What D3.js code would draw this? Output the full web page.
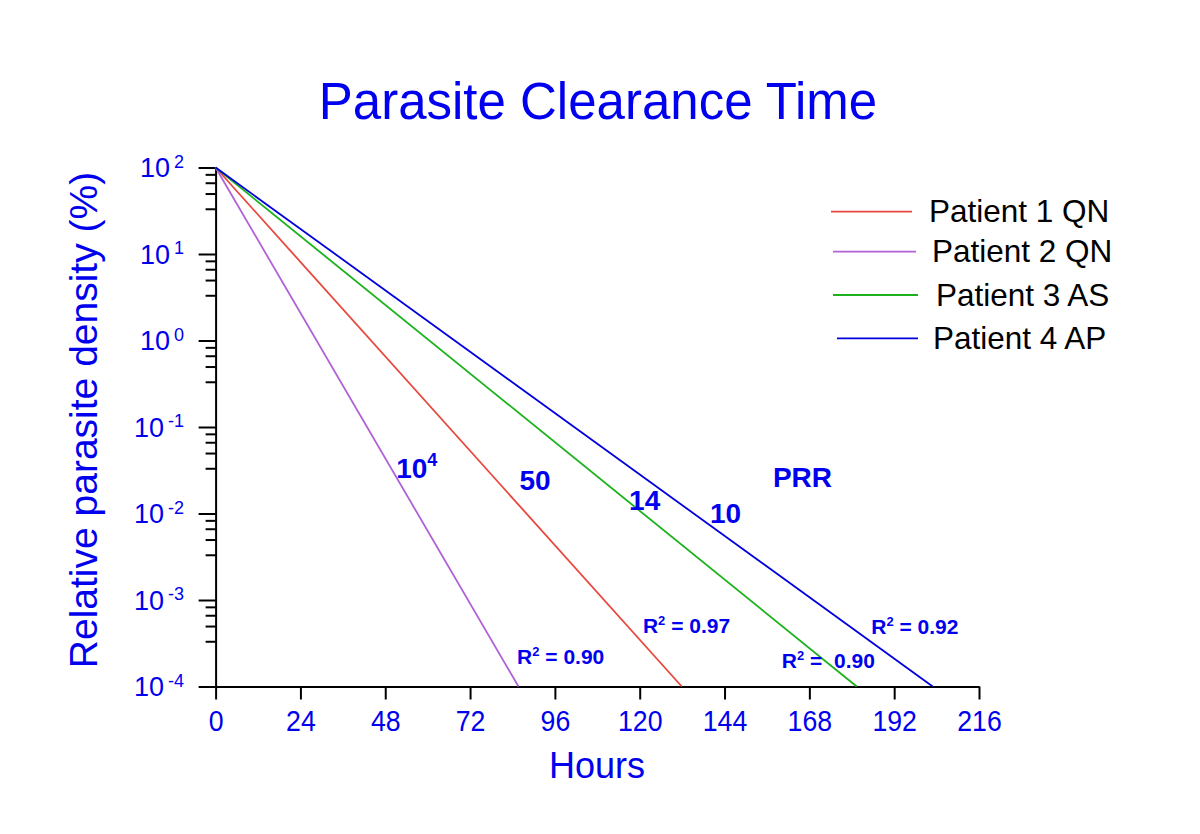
<!DOCTYPE html>
<html>
<head>
<meta charset="utf-8">
<script src="https://cdn.jsdelivr.net/npm/d3@7"></script>
<style>
  html, body { margin: 0; padding: 0; background: #fff; }
  svg { display: block; }
  text { font-family: "Liberation Sans", Arial, Helvetica, sans-serif; }
</style>
</head>
<body>
<svg id="chart" width="1200" height="834"></svg>
<script>
// ---------------- data ----------------
const seriesNames   = ["Patient 1 QN", "Patient 2 QN", "Patient 3 AS", "Patient 4 AP"];
const seriesColors  = ["#e8483e", "#b062d6", "#1db21d", "#0000dc"];
const startHours    = [0, 0, 0, 0];
const startValues   = [100, 100, 100, 100];
const endHours      = [131.9, 85.7, 181.4, 202.9];
const endValues     = [1e-4, 1e-4, 1e-4, 1e-4];

const xTickValues   = [0, 24, 48, 72, 96, 120, 144, 168, 192, 216];
const yTickExponents = [2, 1, 0, -1, -2, -3, -4];
const minorFactors  = [1 / 1.2, 1 / 1.5, 1 / 2, 1 / 3];

// PRR labels (hours, log10 value)
const prrLabels     = [
  { main: "10", sup: "4", h: 51.1, e: -1.59 },
  { main: "50", sup: "",  h: 86.0, e: -1.728 },
  { main: "14", sup: "",  h: 117.0, e: -1.96 },
  { main: "10", sup: "",  h: 139.9, e: -2.11 },
  { main: "PRR", sup: "", h: 157.7, e: -1.694 }
];
// R² labels
const r2Labels      = [
  { text: " = 0.90",  h: 85.3,  e: -3.74 },
  { text: " = 0.97",  h: 120.9, e: -3.378 },
  { text: " =  0.90", h: 160.2, e: -3.786 },
  { text: " = 0.92",  h: 185.5, e: -3.393 }
];

const titleText = "Parasite Clearance Time";
const xLabel = "Hours";
const yLabel = "Relative parasite density (%)";

// ---------------- layout ----------------
const blue = "#0000ee";
const svg = d3.select("#chart");
const x = d3.scaleLinear().domain([0, 216]).range([215.6, 979]);
const y = d3.scaleLog().domain([1e-4, 100]).range([686.5, 167.5]);

// title
svg.append("text")
  .attr("x", 598).attr("y", 119)
  .attr("text-anchor", "middle")
  .attr("font-size", 51)
  .attr("fill", blue)
  .text(titleText);

// axis labels
svg.append("text")
  .attr("x", 597).attr("y", 778)
  .attr("text-anchor", "middle")
  .attr("font-size", 36)
  .attr("fill", blue)
  .text(xLabel);

svg.append("text")
  .attr("transform", "translate(97,420) rotate(-90)")
  .attr("text-anchor", "middle")
  .attr("font-size", 39)
  .attr("fill", blue)
  .text(yLabel);

// x axis
const xAxis = svg.append("g")
  .attr("transform", `translate(0,${y(1e-4)})`)
  .call(d3.axisBottom(x).tickValues(xTickValues).tickSize(13).tickSizeOuter(0).tickPadding(6));
xAxis.select(".domain").attr("stroke", "#000").attr("stroke-width", 2);
xAxis.selectAll(".tick line").attr("stroke", "#000").attr("stroke-width", 2);
xAxis.selectAll(".tick text")
  .attr("font-family", "Liberation Sans, Arial, sans-serif")
  .attr("font-size", 29)
  .attr("fill", blue)
  .attr("y", 44.5)
  .attr("dy", null)
  .attr("transform", "scale(0.92,1)");

// y axis major
const majors = yTickExponents.map(e => Math.pow(10, e));
const yAxis = svg.append("g")
  .attr("transform", `translate(${x(0)},0)`)
  .call(d3.axisLeft(y).tickValues(majors).tickSize(17).tickSizeOuter(0).tickFormat(""));
yAxis.select(".domain").attr("stroke", "#000").attr("stroke-width", 2);
yAxis.selectAll(".tick line").attr("stroke", "#000").attr("stroke-width", 2);

// y axis minor
const minors = [];
yTickExponents.slice(0, -1).forEach(e => {
  minorFactors.forEach(f => minors.push(Math.pow(10, e) * f));
});
const yMinor = svg.append("g")
  .attr("transform", `translate(${x(0)},0)`)
  .call(d3.axisLeft(y).tickValues(minors).tickSize(10).tickSizeOuter(0).tickFormat(""));
yMinor.select(".domain").remove();
yMinor.selectAll(".tick line").attr("stroke", "#000").attr("stroke-width", 2);

// y tick labels with superscripts
yTickExponents.forEach(e => {
  const t = svg.append("text")
    .attr("x", 184).attr("y", y(Math.pow(10, e)) + 9.8)
    .attr("text-anchor", "end")
    .attr("fill", blue);
  t.append("tspan").attr("font-size", 27).text("10");
  t.append("tspan").attr("font-size", 18).attr("dy", -9.5).attr("dx", 4).text(String(e));
});

// series lines
const line = d3.line().x(d => x(d[0])).y(d => y(d[1]));
seriesNames.forEach((name, i) => {
  const pts = [[startHours[i], startValues[i]], [endHours[i], endValues[i]]];
  svg.append("path")
    .attr("d", line(pts))
    .attr("fill", "none")
    .attr("stroke", seriesColors[i])
    .attr("stroke-width", 1.8);
});

// PRR annotations
prrLabels.forEach(d => {
  const t = svg.append("text")
    .attr("x", x(d.h)).attr("y", y(Math.pow(10, d.e)))
    .attr("font-weight", "bold")
    .attr("fill", blue);
  t.append("tspan").attr("font-size", 28).text(d.main);
  if (d.sup) t.append("tspan").attr("font-size", 18).attr("dy", -12).text(d.sup);
});

// R² annotations
r2Labels.forEach(d => {
  const t = svg.append("text")
    .attr("x", x(d.h)).attr("y", y(Math.pow(10, d.e)))
    .attr("font-weight", "bold")
    .attr("font-size", 21)
    .attr("fill", blue)
    .style("white-space", "pre");
  t.append("tspan").text("R");
  t.append("tspan").attr("font-size", 13).attr("dy", -8).text("2");
  t.append("tspan").attr("dy", 8).text(d.text);
});

// legend
const legendLineX1 = [831, 833, 833, 837];
const legendLineX2 = [912, 916, 918, 918];
const legendTextX  = [929, 932, 936, 933];
const legendY      = [211.7, 251.7, 295, 338.3];
seriesNames.forEach((name, i) => {
  svg.append("line")
    .attr("x1", legendLineX1[i]).attr("x2", legendLineX2[i])
    .attr("y1", legendY[i]).attr("y2", legendY[i])
    .attr("stroke", seriesColors[i])
    .attr("stroke-width", 1.8);
  svg.append("text")
    .attr("x", legendTextX[i]).attr("y", legendY[i] + 10.5)
    .attr("font-size", 31.5)
    .attr("fill", "#000")
    .text(name);
});
</script>
</body>
</html>
